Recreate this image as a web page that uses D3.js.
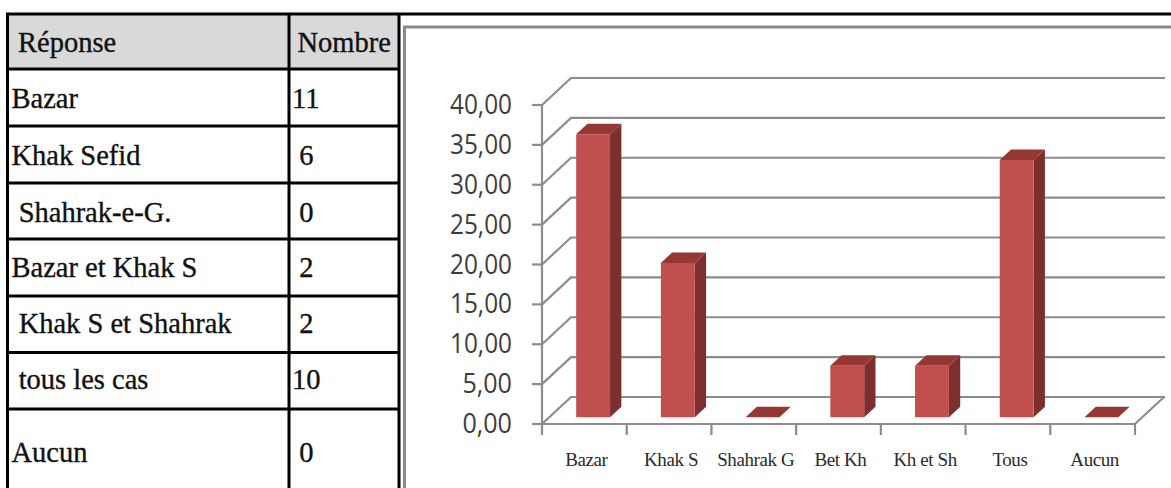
<!DOCTYPE html>
<html>
<head>
<meta charset="utf-8">
<script src="https://cdn.jsdelivr.net/npm/d3@7"></script>
<style>
  html, body { margin: 0; padding: 0; background: #fff; }
  svg { display: block; }
</style>
</head>
<body>
<svg id="fig" width="1171" height="488"></svg>
<script>
// Table content
const tableHeader = ["Réponse", "Nombre"];
const responses = ["Bazar", "Khak Sefid", " Shahrak-e-G.", "Bazar et Khak S", " Khak S et Shahrak", " tous les cas", "Aucun"];
const counts = ["11", " 6", " 0", " 2", " 2", "10", " 0"];

// Chart content (percent of answers)
const categories = ["Bazar", "Khak S", "Shahrak G", "Bet Kh", "Kh et Sh", "Tous", "Aucun"];
const percents = [35.48, 19.35, 0, 6.45, 6.45, 32.26, 0];
const yTicks = [0, 5, 10, 15, 20, 25, 30, 35, 40];

const svg = d3.select("#fig");

// ---------- table ----------
const rowLines = [14, 69, 126, 183, 239, 296, 352.5, 409];
const tableLeft = 7.5, colSplit = 289, tableRight = 399;

svg.append("rect")
  .attr("x", tableLeft).attr("y", rowLines[0])
  .attr("width", tableRight - tableLeft).attr("height", rowLines[1] - rowLines[0])
  .attr("fill", "#d9d9d9");

const tbl = svg.append("g").attr("stroke", "#000").attr("stroke-width", 3);
rowLines.forEach((yy, i) => {
  tbl.append("line")
    .attr("x1", tableLeft - 1.5).attr("x2", i === 0 ? 1171 : tableRight)
    .attr("y1", yy).attr("y2", yy);
});
[tableLeft, colSplit, tableRight].forEach(xx => {
  tbl.append("line").attr("x1", xx).attr("x2", xx).attr("y1", rowLines[0]).attr("y2", 488);
});

const cellText = (g, txt, x, yBase) => {
  g.append("text")
    .attr("x", x).attr("y", yBase)
    .attr("xml:space", "preserve")
    .style("white-space", "pre")
    .text(txt);
};
const tt = svg.append("g")
  .style("font-family", "'Liberation Serif', 'Times New Roman', serif")
  .attr("font-size", 28.5)
  .attr("fill", "#111")
  .attr("stroke", "#111")
  .attr("stroke-width", 0.35);

const baselines = [108, 165, 221.5, 277, 333, 388.5, 462];
cellText(tt, tableHeader[0], 18, 52);
cellText(tt, tableHeader[1], 297.5, 52);
responses.forEach((r, i) => cellText(tt, r, 11.5, baselines[i]));
counts.forEach((c, i) => cellText(tt, c, 292, baselines[i]));

// ---------- chart frame ----------
svg.append("line").attr("x1", 404.5).attr("x2", 404.5).attr("y1", 27).attr("y2", 488)
  .attr("stroke", "#8a8a8a").attr("stroke-width", 3);
svg.append("line").attr("x1", 403).attr("x2", 1171).attr("y1", 27).attr("y2", 27)
  .attr("stroke", "#8a8a8a").attr("stroke-width", 3);

// ---------- 3D column chart ----------
const DX = 29, DY = 27;           // depth offset of the back wall
const z1 = 0.25, z2 = 0.64;       // bar front / back depth fraction
const wallRight = 1165;

const x = d3.scaleBand().domain(categories).range([542, 1135]).padding(0);
const y = d3.scaleLinear().domain([0, 40]).range([424, 105]);

const grid = svg.append("g")
  .attr("fill", "none").attr("stroke", "#8c8c8c").attr("stroke-width", 2.2);

yTicks.forEach(t => {
  const yy = y(t);
  grid.append("path")
    .attr("d", `M${x.range()[0]},${yy}L${x.range()[0] + DX},${yy - DY}L${wallRight},${yy - DY}`);
  // tick mark on the front axis
  grid.append("line").attr("x1", x.range()[0] - 10).attr("x2", x.range()[0])
    .attr("y1", yy).attr("y2", yy);
});
// front value axis
grid.append("line").attr("x1", x.range()[0]).attr("x2", x.range()[0])
  .attr("y1", y(40)).attr("y2", y(0));
// floor front edge and right edge
grid.append("path")
  .attr("d", `M${x.range()[0]},${y(0)}L${x.range()[1]},${y(0)}L${x.range()[1] + DX},${y(0) - DY}`);
// category ticks
const bounds = categories.map(c => x(c)).concat([x.range()[1]]);
bounds.forEach(b => {
  grid.append("line").attr("x1", b).attr("x2", b).attr("y1", y(0)).attr("y2", y(0) + 11);
});

// value labels
const fmt = v => d3.format(".2f")(v).replace(".", ",");
svg.append("g")
  .attr("font-family", "'Open Sans', 'Noto Sans', sans-serif")
  .attr("font-size", 27)
  .attr("fill", "#3c3c3c")
  .selectAll("text")
  .data(yTicks)
  .join("text")
  .attr("x", 512)
  .attr("y", d => y(d) + 9)
  .attr("text-anchor", "end")
  .attr("textLength", d => fmt(d).length * 12.4)
  .attr("lengthAdjust", "spacingAndGlyphs")
  .text(fmt);

// category labels
svg.append("g")
  .style("font-family", "'Liberation Serif', 'Times New Roman', serif")
  .attr("font-size", 19)
  .attr("fill", "#2a2a2a")
  .selectAll("text")
  .data(categories)
  .join("text")
  .attr("x", d => x(d) + x.bandwidth() / 2 + 2)
  .attr("y", 466)
  .attr("text-anchor", "middle")
  .attr("letter-spacing", -0.4)
  .text(d => d);

// bars
const barW = x.bandwidth() * 0.4;
const ddx = DX * (z2 - z1), ddy = DY * (z2 - z1);
const bars = svg.append("g");
categories.forEach((c, i) => {
  const v = percents[i];
  const x0 = x(c) + x.bandwidth() / 2 - barW / 2 + DX * z1 + 1.5;
  const x1 = x0 + barW;
  const yTop = y(v) - DY * z1;
  const yBot = y(0) - DY * z1;
  const g = bars.append("g");
  if (yBot - yTop > 0) {
    g.append("path")
      .attr("d", `M${x1},${yTop}L${x1 + ddx},${yTop - ddy}L${x1 + ddx},${yBot - ddy}L${x1},${yBot}Z`)
      .attr("fill", "#7e2f2d");
    g.append("rect")
      .attr("x", x0).attr("y", yTop).attr("width", barW).attr("height", yBot - yTop)
      .attr("fill", "#c0504d");
  }
  g.append("path")
    .attr("d", `M${x0},${yTop}L${x0 + ddx},${yTop - ddy}L${x1 + ddx},${yTop - ddy}L${x1},${yTop}Z`)
    .attr("fill", "#953735");
});
</script>
</body>
</html>
